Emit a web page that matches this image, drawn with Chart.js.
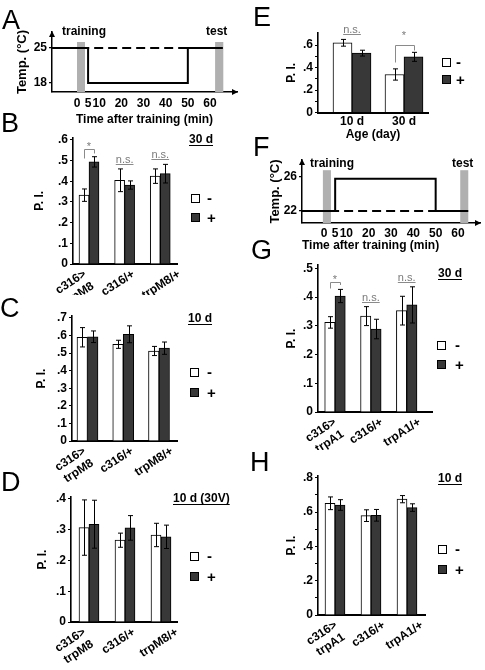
<!DOCTYPE html>
<html><head><meta charset="utf-8">
<script src="https://cdn.jsdelivr.net/npm/chart.js@4/dist/chart.umd.min.js"></script>
<style>
html,body{margin:0;padding:0;background:#fff}
body{position:relative;width:485px;height:670px;overflow:hidden;font-family:"Liberation Sans",Arial,Helvetica,sans-serif}
canvas{position:absolute}
.t{position:absolute;white-space:nowrap;color:#000}
.sq{position:absolute;box-sizing:border-box;border:1px solid #000}
</style></head>
<body>
<script>
// ================= DATA =================
// Temperature protocols (A: cold step, F: warm step)
const timeTicks = [0, 5, 10, 20, 30, 40, 50, 60];
const A_time = [-11.2, 5, 5, 50, 50, 65.7];
const A_temp = [25, 25, 18, 18, 25, 25];
const A_ctrlTime = [-11.2, 65.7];
const A_ctrlTemp = [25, 25];
const A_yTicks = [18, 25];
const A_trainWin = [0, 3.6];
const A_testWin = [62.3, 66];
const F_time = [-9.8, 5, 5, 50, 50, 64.6];
const F_temp = [22, 22, 25.8, 25.8, 22, 22];
const F_ctrlTime = [-9.8, 64.6];
const F_ctrlTemp = [22, 22];
const F_yTicks = [22, 26];
const F_trainWin = [-0.5, 3.1];
const F_testWin = [61, 64.6];

// Genotype / age categories
const trpM8Genotypes = [['c316>', 'trpM8'], 'c316/+', 'trpM8/+'];
const trpA1Genotypes = [['c316>', 'trpA1'], 'c316/+', 'trpA1/+'];
const ageLabels = ['10 d', '30 d'];

// B: trpM8, 30 d
const B_minus = [0.333, 0.405, 0.425];
const B_minusErr = [0.03, 0.055, 0.035];
const B_plus = [0.494, 0.382, 0.437];
const B_plusErr = [0.025, 0.02, 0.045];
const B_sig = ['*', 'n.s.', 'n.s.'];
const B_yTicks = [0, 0.1, 0.2, 0.3, 0.4, 0.5, 0.6];
const B_yLabels = ['0', '.1', '.2', '.3', '.4', '.5', '.6'];
// C: trpM8, 10 d
const C_minus = [0.59, 0.55, 0.512];
const C_minusErr = [0.055, 0.023, 0.026];
const C_plus = [0.593, 0.607, 0.528];
const C_plusErr = [0.033, 0.048, 0.035];
const C_sig = ['', '', ''];
const C_yTicks = [0, 0.1, 0.2, 0.3, 0.4, 0.5, 0.6, 0.7];
const C_yLabels = ['0', '.1', '.2', '.3', '.4', '.5', '.6', '.7'];
// D: trpM8, 10 d (30V)
const D_minus = [0.307, 0.266, 0.283];
const D_minusErr = [0.09, 0.023, 0.038];
const D_plus = [0.318, 0.306, 0.277];
const D_plusErr = [0.078, 0.04, 0.038];
const D_sig = ['', '', ''];
const D_yTicks = [0, 0.1, 0.2, 0.3, 0.4];
const D_yLabels = ['0', '.1', '.2', '.3', '.4'];
// E: age comparison
const E_minus = [0.62, 0.338];
const E_minusErr = [0.03, 0.05];
const E_plus = [0.528, 0.495];
const E_plusErr = [0.026, 0.04];
const E_sig = ['n.s.', '*'];
const E_yTicks = [0, 0.1, 0.2, 0.3, 0.4, 0.5, 0.6];
const E_yLabels = ['0', '', '.2', '', '.4', '', '.6'];
// G: trpA1, 30 d
const G_minus = [0.312, 0.334, 0.353];
const G_minusErr = [0.02, 0.033, 0.05];
const G_plus = [0.404, 0.289, 0.373];
const G_plusErr = [0.023, 0.034, 0.063];
const G_sig = ['*', 'n.s.', 'n.s.'];
const G_yTicks = [0, 0.1, 0.2, 0.3, 0.4, 0.5];
const G_yLabels = ['0', '.1', '.2', '.3', '.4', '.5'];
// H: trpA1, 10 d
const H_minus = [0.651, 0.579, 0.675];
const H_minusErr = [0.037, 0.034, 0.021];
const H_plus = [0.641, 0.581, 0.626];
const H_plusErr = [0.031, 0.034, 0.022];
const H_sig = ['', '', ''];
const H_yTicks = [0, 0.1, 0.2, 0.3, 0.4, 0.5, 0.6, 0.7, 0.8];
const H_yLabels = ['0', '', '.2', '', '.4', '', '.6', '', '.8'];

// ================= RENDERING =================
const FONT = '"Liberation Sans", Arial, Helvetica, sans-serif';
Chart.defaults.font.family = FONT;
Chart.defaults.color = '#000';
Chart.defaults.animation = false;
const F12B = {family: FONT, size: 12, weight: 'bold', lineHeight: 1.2};
const F13B = {family: FONT, size: 13, weight: 'bold', lineHeight: 1.2};

function mkCanvas(x, y, w, h) {
  const c = document.createElement('canvas');
  c.width = w; c.height = h;
  c.style.left = x + 'px'; c.style.top = y + 'px';
  c.style.width = w + 'px'; c.style.height = h + 'px';
  document.body.appendChild(c);
  return c;
}
function txt(s, x, base, size, o = {}) {
  const d = document.createElement('div');
  d.className = 't';
  d.textContent = s;
  d.style.font = `${o.weight || 'normal'} ${size}px ${FONT}`;
  d.style.lineHeight = size + 'px';
  d.style.left = x + 'px';
  d.style.top = (base - 0.8465 * size) + 'px';
  if (o.color) d.style.color = o.color;
  if (o.underline) { d.style.textDecoration = 'underline'; d.style.textUnderlineOffset = '2px'; }
  document.body.appendChild(d);
}
function legend(x, y1, y2, tx) {
  for (const [y, fill, sym, dy] of [[y1, '#fff', '-', 4.3], [y2, '#383838', '+', 5.3]]) {
    const s = document.createElement('div');
    s.className = 'sq';
    s.style.left = x + 'px'; s.style.top = y + 'px';
    s.style.width = '9px'; s.style.height = '9px'; s.style.background = fill;
    document.body.appendChild(s);
    txt(sym, tx, y + 4.5 + dy, 15, {weight: 'bold'});
  }
}

const errPlugin = {
  id: 'errbars',
  afterDatasetsDraw(chart) {
    const ctx = chart.ctx, ys = chart.scales.y;
    ctx.save(); ctx.strokeStyle = '#000'; ctx.lineWidth = 1;
    chart.data.datasets.forEach((ds, di) => {
      chart.getDatasetMeta(di).data.forEach((bar, i) => {
        const v = ds.data[i].y, e = ds.errors[i];
        const x = Math.round(bar.x) + 0.5;
        const y1 = ys.getPixelForValue(v + e), y2 = ys.getPixelForValue(v - e);
        ctx.beginPath();
        ctx.moveTo(x, y1); ctx.lineTo(x, y2);
        ctx.moveTo(x - 2.5, y1); ctx.lineTo(x + 2.5, y1);
        ctx.moveTo(x - 2.5, y2); ctx.lineTo(x + 2.5, y2);
        ctx.stroke();
      });
    });
    ctx.restore();
  }
};
const sigPlugin = {
  id: 'sig',
  afterDatasetsDraw(chart, args, opts) {
    const labels = opts.labels || [];
    const ctx = chart.ctx, ys = chart.scales.y, ds = chart.data.datasets;
    const m0 = chart.getDatasetMeta(0), m1 = chart.getDatasetMeta(1);
    ctx.save();
    ctx.strokeStyle = '#8a8a8a'; ctx.fillStyle = '#7a7a7a'; ctx.lineWidth = 1;
    ctx.font = `11px ${FONT}`; ctx.textAlign = 'center'; ctx.textBaseline = 'alphabetic';
    labels.forEach((lab, i) => {
      if (!lab) return;
      const xL = Math.round(m0.data[i].x) + 0.5, xR = Math.round(m1.data[i].x) + 0.5;
      const xc = (m0.data[i].x + m1.data[i].x) / 2;
      const t0 = ys.getPixelForValue(ds[0].data[i].y + ds[0].errors[i]);
      const t1 = ys.getPixelForValue(ds[1].data[i].y + ds[1].errors[i]);
      const top = Math.min(t0, t1);
      if (lab === '*') {
        const by = Math.round(top - 7.5) + 0.5;
        ctx.beginPath();
        ctx.moveTo(xL, by + opts.legL); ctx.lineTo(xL, by); ctx.lineTo(xR, by); ctx.lineTo(xR, by + opts.legR);
        ctx.stroke();
        ctx.fillText('*', xc, by - opts.starGap + 6.3);
      } else {
        const uy = Math.round(top - 5) + 0.5;
        const w = ctx.measureText(lab).width;
        ctx.fillText(lab, xc, uy - 1.5);
        ctx.beginPath(); ctx.moveTo(xc - w / 2, uy); ctx.lineTo(xc + w / 2, uy); ctx.stroke();
      }
    });
    ctx.restore();
  }
};
const bandPlugin = {
  id: 'bands',
  beforeDatasetsDraw(chart, args, opts) {
    const ctx = chart.ctx, xs = chart.scales.x, ys = chart.scales.y;
    ctx.save(); ctx.fillStyle = '#b0b0b0';
    const yt = ys.getPixelForValue(opts.top), yb = chart.chartArea.bottom;
    for (const [a, b] of opts.windows) {
      const x0 = xs.getPixelForValue(a), x1 = xs.getPixelForValue(b);
      ctx.fillRect(x0, yt, x1 - x0, yb - yt);
    }
    ctx.restore();
  }
};
const arrowPlugin = {
  id: 'arrows',
  afterDraw(chart) {
    const ctx = chart.ctx, a = chart.chartArea;
    ctx.save(); ctx.fillStyle = '#000';
    ctx.beginPath();
    ctx.moveTo(a.right + 1, a.bottom); ctx.lineTo(a.right - 5, a.bottom - 3); ctx.lineTo(a.right - 5, a.bottom + 3); ctx.closePath();
    ctx.fill();
    ctx.beginPath();
    ctx.moveTo(a.left, a.top - 1); ctx.lineTo(a.left - 3, a.top + 5); ctx.lineTo(a.left + 3, a.top + 5); ctx.closePath();
    ctx.fill();
    ctx.restore();
  }
};

function tempPanel(p) {
  const [cx, cy, cw, ch] = p.canvas, [al, at, ar, ab] = p.area;
  const el = mkCanvas(cx, cy, cw, ch);
  new Chart(el, {
    type: 'line',
    data: {datasets: [
      {data: p.ctrlTime.map((t, i) => ({x: t, y: p.ctrlTemp[i]})), borderColor: '#000', borderWidth: 2, borderDash: [9, 5], pointRadius: 0, fill: false, tension: 0},
      {data: p.time.map((t, i) => ({x: t, y: p.temp[i]})), borderColor: '#000', borderWidth: 2, pointRadius: 0, fill: false, tension: 0}
    ]},
    options: {
      responsive: false, animation: false, events: [],
      layout: {padding: {left: 0, top: at - cy, right: cx + cw - ar, bottom: 0}},
      plugins: {legend: {display: false}, tooltip: {enabled: false}, bands: {windows: [p.trainWin, p.testWin], top: p.bandTop}},
      scales: {
        x: {
          type: 'linear', min: p.xMin, max: p.xMax,
          afterFit: s => { s.height = cy + ch - ab; },
          afterBuildTicks: s => { s.ticks = timeTicks.map(v => ({value: v})); },
          ticks: {autoSkip: false, maxRotation: 0, minRotation: 0, padding: p.xPad, font: F12B, callback: v => String(v)},
          grid: {display: false, drawTicks: false},
          border: {display: true, color: '#000', width: 1.5},
          title: {display: true, text: 'Time after training (min)', align: p.xTitleAlign || 'center', font: F12B, padding: {top: 0, bottom: p.xTitlePad}}
        },
        y: {
          type: 'linear', min: p.yMin, max: p.yMax,
          afterFit: s => { s.width = al - cx; },
          afterBuildTicks: s => { s.ticks = p.yTicks.map(v => ({value: v})); },
          ticks: {autoSkip: false, padding: 2, font: F12B, callback: v => String(v)},
          grid: {drawOnChartArea: false, drawTicks: true, tickLength: 3, color: '#000', lineWidth: 1.2},
          border: {display: true, color: '#000', width: 1.5},
          title: {display: true, text: 'Temp. (°C)', font: F13B, padding: {top: p.yTitleX - cx - 7.8, bottom: 0}}
        }
      }
    },
    plugins: [bandPlugin, arrowPlugin]
  });
}

function barPanel(p) {
  const [cx, cy, cw, ch] = p.canvas, [al, at, ar, ab] = p.area;
  const n = p.cats.length;
  const unit = (p.centers[n - 1] - p.centers[0]) / (n - 1);
  const xmin = 1 - (p.centers[0] - al) / unit, xmax = n + (ar - p.centers[n - 1]) / unit;
  const el = mkCanvas(cx, cy, cw, ch);
  const rot = p.rot || 0;
  new Chart(el, {
    type: 'bar',
    data: {datasets: [
      {label: '-', data: p.minus.map((v, i) => ({x: i + 1, y: v})), errors: p.minusErr, backgroundColor: '#fff', borderColor: '#000', borderWidth: 1, barThickness: p.barW, borderSkipped: 'bottom'},
      {label: '+', data: p.plus.map((v, i) => ({x: i + 1, y: v})), errors: p.plusErr, backgroundColor: '#383838', borderColor: '#000', borderWidth: 1, barThickness: p.barW, borderSkipped: 'bottom'}
    ]},
    options: {
      responsive: false, animation: false, events: [],
      layout: {padding: {left: 0, top: at - cy, right: cx + cw - ar, bottom: 0}},
      plugins: {legend: {display: false}, tooltip: {enabled: false}, sig: Object.assign({labels: p.sig}, p.sigStyle || {})},
      scales: {
        x: {
          type: 'linear', min: xmin, max: xmax, offset: false,
          afterFit: s => { s.height = cy + ch - ab; },
          afterBuildTicks: s => { s.ticks = p.cats.map((c, i) => ({value: i + 1 + (p.labelShift ? p.labelShift[i] : 0) / unit})); },
          ticks: {autoSkip: false, maxRotation: rot, minRotation: rot, padding: p.xPad, font: F12B, callback: (v, i) => p.cats[i]},
          grid: {display: false, drawTicks: false, offset: false},
          border: {display: true, color: '#000', width: 2},
          title: p.xTitle ? {display: true, text: p.xTitle, font: F12B, padding: {top: 0, bottom: p.xTitlePad}} : {display: false}
        },
        y: {
          type: 'linear', min: 0, max: p.yMax,
          afterFit: s => { s.width = al - cx; },
          afterBuildTicks: s => { s.ticks = p.yTicks.map(v => ({value: v})); },
          ticks: {autoSkip: false, padding: 2, font: F12B, callback: (v, i) => p.yLabels[i]},
          grid: {drawOnChartArea: false, drawTicks: true, tickLength: 3, color: '#000', lineWidth: 1},
          border: {display: true, color: '#000', width: 1.6},
          title: {display: true, text: 'P. I.', font: F12B, padding: {top: p.yTitleX - cx - 7.2, bottom: 0}}
        }
      }
    },
    plugins: [errPlugin, sigPlugin]
  });
}

// ---------- Panel A ----------
tempPanel({canvas: [0, 15, 245, 115], area: [52, 32, 237, 92], time: A_time, temp: A_temp, ctrlTime: A_ctrlTime, ctrlTemp: A_ctrlTemp,
  xMin: -11.28, xMax: 72.18, yMin: 16.2, yMax: 28.2, yTicks: A_yTicks, trainWin: A_trainWin, testWin: A_testWin, bandTop: 26.2,
  xPad: 4.8, xTitlePad: 2.8, yTitleX: 22});
// ---------- Panel F ----------
tempPanel({canvas: [255, 145, 230, 110], area: [302, 160, 480, 223], time: F_time, temp: F_temp, ctrlTime: F_ctrlTime, ctrlTemp: F_ctrlTemp,
  xMin: -9.85, xMax: 69.85, yMin: 20.59, yMax: 28, yTicks: F_yTicks, trainWin: F_trainWin, testWin: F_testWin, bandTop: 26.8,
  xPad: 3.8, xTitlePad: 1.8, xTitleAlign: 'start', yTitleX: 275});

// ---------- Bar panels ----------
const ROT = 33;
barPanel({canvas: [0, 125, 245, 170], area: [73, 137.7, 177, 264], cats: trpM8Genotypes, minus: B_minus, minusErr: B_minusErr, plus: B_plus, plusErr: B_plusErr,
  sig: B_sig, sigStyle: {legL: 9, legR: 4, starGap: 6}, yMax: 0.611, yTicks: B_yTicks, yLabels: B_yLabels, centers: [89, 125, 160.25], barW: 10,
  rot: ROT, xPad: 3, labelShift: [-4, 9, 19], yTitleX: 40});
barPanel({canvas: [0, 305, 245, 180], area: [72, 316, 177, 441], cats: trpM8Genotypes, minus: C_minus, minusErr: C_minusErr, plus: C_plus, plusErr: C_plusErr,
  sig: C_sig, yMax: 0.711, yTicks: C_yTicks, yLabels: C_yLabels, centers: [87.5, 123.25, 159], barW: 10.5,
  rot: ROT, xPad: 3, labelShift: [-3, 9, 13], yTitleX: 42});
barPanel({canvas: [0, 485, 245, 185], area: [71, 497, 177, 622], cats: trpM8Genotypes, minus: D_minus, minusErr: D_minusErr, plus: D_plus, plusErr: D_plusErr,
  sig: D_sig, yMax: 0.4065, yTicks: D_yTicks, yLabels: D_yLabels, centers: [89, 125, 161], barW: 10,
  rot: ROT, xPad: 3, labelShift: [-4.5, 9, 16], yTitleX: 43});
barPanel({canvas: [255, 20, 230, 125], area: [318, 33, 428, 112.5], cats: ageLabels, minus: E_minus, minusErr: E_minusErr, plus: E_plus, plusErr: E_plusErr,
  sig: E_sig, sigStyle: {legL: 17, legR: 5, starGap: 13}, yMax: 0.707, yTicks: E_yTicks, yLabels: E_yLabels, centers: [352, 404], barW: 19,
  rot: 0, xPad: 2.3, xTitle: 'Age (day)', xTitlePad: 2.8, yTitleX: 292});
barPanel({canvas: [255, 255, 230, 195], area: [318, 265, 432, 412], cats: trpA1Genotypes, minus: G_minus, minusErr: G_minusErr, plus: G_plus, plusErr: G_plusErr,
  sig: G_sig, sigStyle: {legL: 6, legR: 2.5, starGap: 6}, yMax: 0.512, yTicks: G_yTicks, yLabels: G_yLabels, centers: [335, 370.85, 406.7], barW: 10.3,
  rot: ROT, xPad: 3, labelShift: [0, 11, 13], yTitleX: 292});
barPanel({canvas: [255, 465, 230, 205], area: [318, 476, 425, 615], cats: trpA1Genotypes, minus: H_minus, minusErr: H_minusErr, plus: H_plus, plusErr: H_plusErr,
  sig: H_sig, yMax: 0.81, yTicks: H_yTicks, yLabels: H_yLabels, centers: [335, 371, 407], barW: 10,
  rot: ROT, xPad: 3, labelShift: [1, 13, 15], yTitleX: 292});

// ---------- Text overlays ----------
for (const [L, x, b] of [['A', 2, 30], ['B', 1, 133], ['C', 0, 318], ['D', 1, 492], ['E', 253, 27], ['F', 253, 157], ['G', 251, 260], ['H', 250, 472]]) {
  txt(L, x, b, 27);
}
txt('training', 62, 35.5, 12, {weight: 'bold'});
txt('test', 206, 35.5, 12, {weight: 'bold'});
txt('training', 310, 167.5, 12, {weight: 'bold'});
txt('test', 452, 167.5, 12, {weight: 'bold'});
txt('30 d', 189, 143, 12, {weight: 'bold', underline: true});
txt('10 d', 188, 322.5, 12, {weight: 'bold', underline: true});
txt('10 d (30V)', 173, 502.5, 12, {weight: 'bold', underline: true});
txt('30 d', 438, 277, 12, {weight: 'bold', underline: true});
txt('10 d', 438, 482.5, 12, {weight: 'bold', underline: true});
legend(191, 194, 213, 207);
legend(190, 368, 388, 207);
legend(190, 552, 572, 207);
legend(442, 58, 75, 456);
legend(437, 341, 360, 455);
legend(438, 545, 565, 455);
</script>
</body></html>
